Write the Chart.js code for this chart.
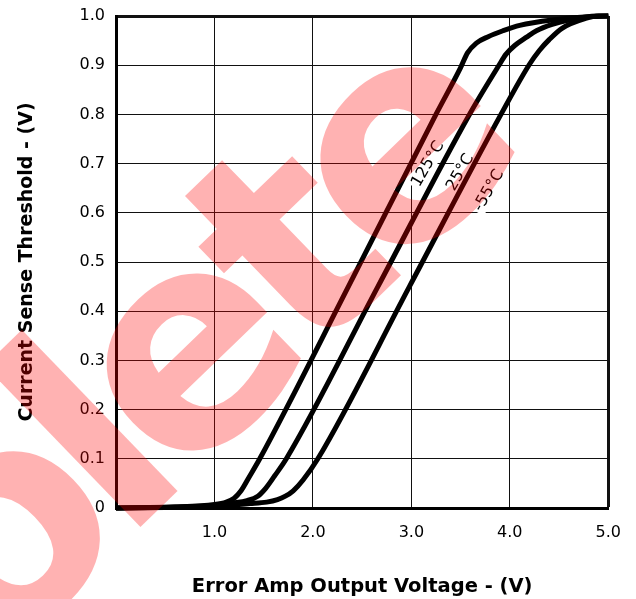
<!DOCTYPE html>
<html>
<head>
<meta charset="utf-8">
<script src="https://cdn.jsdelivr.net/npm/chart.js@4.4.1/dist/chart.umd.min.js"></script>
<style>
  html, body { margin: 0; padding: 0; background: #fff; }
  #wrap { width: 636px; height: 599px; position: relative; }
</style>
</head>
<body>
<div id="wrap"><canvas id="chart" width="636" height="599"></canvas></div>
<script>
// curve readings: error amp output voltage (V) vs current sense threshold (V)
const volts125 = [0, 0.6, 1.0, 1.12, 1.2, 1.27, 1.35, 1.46, 2.36, 3.25, 3.50, 3.57, 3.66, 3.78, 3.93, 4.10, 4.43, 4.84, 5.0];
const thresh125 = [0, 0.002, 0.007, 0.012, 0.02, 0.035, 0.062, 0.1, 0.45, 0.8, 0.895, 0.925, 0.945, 0.958, 0.97, 0.981, 0.992, 0.999, 1.0];

const volts25 = [0, 0.7, 1.0, 1.19, 1.33, 1.44, 1.52, 1.61, 1.73, 2.66, 3.59, 3.89, 3.96, 4.05, 4.17, 4.27, 4.43, 4.6, 4.88, 5.0];
const thresh25 = [0, 0.002, 0.005, 0.01, 0.015, 0.024, 0.04, 0.065, 0.1, 0.45, 0.8, 0.9, 0.922, 0.94, 0.957, 0.97, 0.983, 0.992, 1.0, 1.0];

const voltsM55 = [0, 1.0, 1.36, 1.53, 1.64, 1.72, 1.8, 1.9, 2.05, 2.98, 3.91, 4.2, 4.3, 4.4, 4.53, 4.77, 4.9, 5.0];
const threshM55 = [0, 0.004, 0.009, 0.012, 0.017, 0.024, 0.035, 0.057, 0.1, 0.45, 0.8, 0.902, 0.93, 0.952, 0.975, 0.995, 1.0, 1.0];

const curveNames = ['125°C', '25°C', '-55°C'];
// where each curve label sits (data units)
const labelVolts = [3.16, 3.49, 3.78];
const labelThresh = [0.70, 0.683, 0.646];

const xTickLabels = ['', '1.0', '2.0', '3.0', '4.0', '5.0'];
const yTickLabels = ['0', '0.1', '0.2', '0.3', '0.4', '0.5', '0.6', '0.7', '0.8', '0.9', '1.0'];

const zip = (xs, ys) => xs.map((x, i) => ({ x: x, y: ys[i] }));

const curve = (pts) => ({
  data: pts,
  borderColor: '#000',
  borderWidth: 5,
  pointRadius: 0,
  fill: false,
  cubicInterpolationMode: 'monotone',
  clip: false
});

// curve labels with a white knock-out behind them
const curveLabels = {
  id: 'curveLabels',
  beforeDatasetsDraw(chart) {
    const ctx = chart.ctx;
    const xs = chart.scales.x, ys = chart.scales.y;
    ctx.save();
    ctx.font = '16px "DejaVu Sans"';
    ctx.textAlign = 'center';
    ctx.textBaseline = 'middle';
    curveNames.forEach((name, i) => {
      const px = xs.getPixelForValue(labelVolts[i]);
      const py = ys.getPixelForValue(labelThresh[i]);
      ctx.save();
      ctx.translate(px, py);
      ctx.rotate(-60 * Math.PI / 180);
      const w = ctx.measureText(name).width;
      ctx.fillStyle = '#fff';
      ctx.fillRect(-w / 2 - 2, -9, w + 4, 18);
      ctx.fillStyle = '#000';
      ctx.fillText(name, 0, 1);
      ctx.restore();
    });
    ctx.restore();
  }
};

// translucent "Obsolete" stamp over everything
const watermark = {
  id: 'watermark',
  afterDraw(chart) {
    const ctx = chart.ctx;
    ctx.save();
    ctx.font = 'bold 295px "DejaVu Sans"';
    ctx.letterSpacing = '-22px';
    ctx.fillStyle = 'rgba(255, 0, 0, 0.3)';
    ctx.textBaseline = 'alphabetic';
    ctx.translate(159, 509);
    ctx.rotate(-44 * Math.PI / 180);
    const pre = ctx.measureText('Obso').width;
    const lw = ctx.measureText('l').width + 22;
    ctx.fillText('Obsolete', -pre - lw / 2, 0);
    ctx.restore();
  }
};

const edge = (ctx, last) => ctx.tick && ctx.tick.value === last ? 3 : 1;

new Chart(document.getElementById('chart'), {
  type: 'line',
  data: {
    datasets: [
      curve(zip(volts125, thresh125)),
      curve(zip(volts25, thresh25)),
      curve(zip(voltsM55, threshM55))
    ]
  },
  options: {
    responsive: false,
    animation: false,
    layout: { padding: { top: 16, right: 27, left: 0, bottom: 0 } },
    plugins: { legend: { display: false }, tooltip: { enabled: false } },
    scales: {
      x: {
        type: 'linear',
        min: 0, max: 5,
        afterFit: (s) => { s.height = 91; },
        ticks: {
          stepSize: 1,
          padding: 15,
          color: '#000',
          font: { family: 'DejaVu Sans', size: 16 },
          maxRotation: 0,
          callback: (v, i) => xTickLabels[i]
        },
        grid: { color: '#111', lineWidth: (c) => edge(c, 5), drawTicks: false },
        border: { color: '#000', width: 3 },
        title: {
          display: true,
          text: 'Error Amp Output Voltage - (V)',
          color: '#000',
          font: { family: 'DejaVu Sans', size: 19.5, weight: 'bold' },
          padding: { top: 11, bottom: 0 }
        }
      },
      y: {
        min: 0, max: 1,
        afterFit: (s) => { s.width = 116; },
        ticks: {
          stepSize: 0.1,
          padding: 2,
          color: '#000',
          font: { family: 'DejaVu Sans', size: 16 },
          callback: (v, i) => yTickLabels[i]
        },
        grid: {
          color: '#111',
          lineWidth: (c) => edge(c, 1),
          drawTicks: true,
          tickLength: 9,
          tickColor: 'rgba(0,0,0,0)'
        },
        border: { color: '#000', width: 3 },
        title: {
          display: true,
          text: 'Current Sense Threshold - (V)',
          color: '#000',
          font: { family: 'DejaVu Sans', size: 19, weight: 'bold' },
          padding: { top: 16, bottom: 0 }
        }
      }
    }
  },
  plugins: [curveLabels, watermark]
});
</script>
</body>
</html>
